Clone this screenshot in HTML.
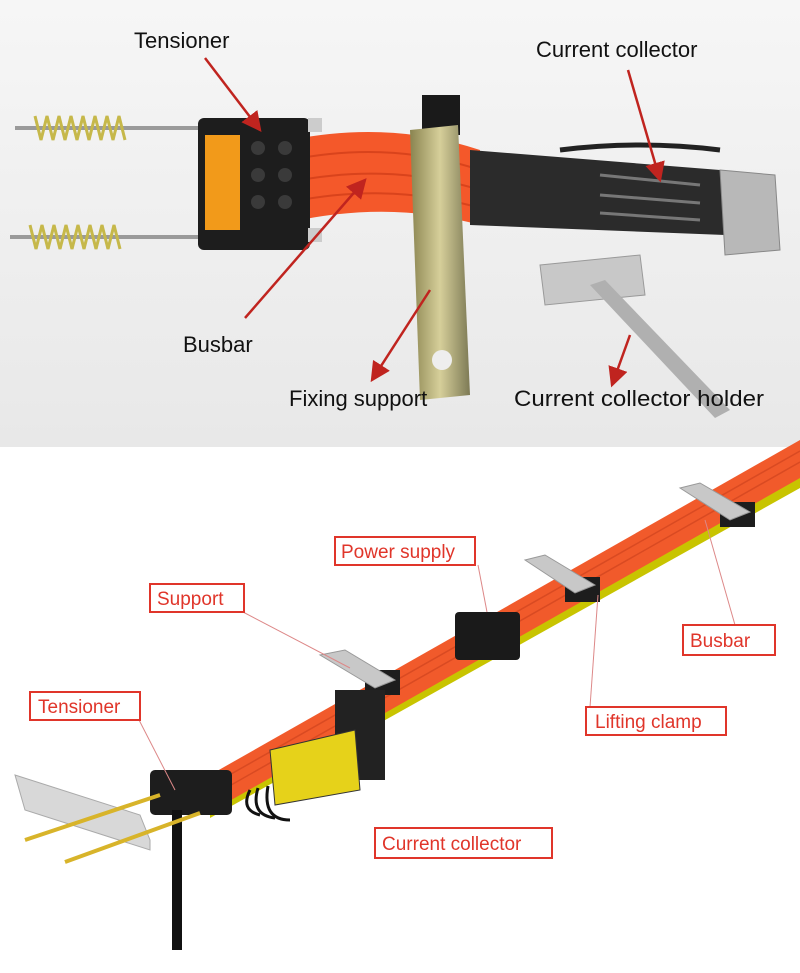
<!DOCTYPE html>
<html><head><meta charset="utf-8"><style>
html,body{margin:0;padding:0;background:#fff;}
svg{display:block;}
</style></head><body>
<svg width="800" height="973" viewBox="0 0 800 973" xmlns="http://www.w3.org/2000/svg" font-family="Liberation Sans, sans-serif">
<defs>
<linearGradient id="bg" x1="0" y1="0" x2="0" y2="1"><stop offset="0" stop-color="#f6f6f6"/><stop offset="1" stop-color="#e8e8e8"/></linearGradient>
<linearGradient id="metal" x1="0" y1="0" x2="1" y2="0"><stop offset="0" stop-color="#8a8450"/><stop offset=".5" stop-color="#d6cf9a"/><stop offset="1" stop-color="#7d7a55"/></linearGradient>
<marker id="ar" markerWidth="8" markerHeight="8" refX="7" refY="4" orient="auto"><path d="M0,0 L8,4 L0,8 z" fill="#c0241f"/></marker>
</defs>
<rect x="0" y="0" width="800" height="447" fill="url(#bg)"/>
<g stroke="#9a9a9a" stroke-width="4"><line x1="15" y1="128" x2="210" y2="128"/><line x1="10" y1="237" x2="210" y2="237"/></g>
<g stroke="#c6b84a" stroke-width="3">
<path d="M35 116 l6 24 l6 -24 l6 24 l6 -24 l6 24 l6 -24 l6 24 l6 -24 l6 24 l6 -24 l6 24 l6 -24 l6 24 l6 -24 l6 24" fill="none"/>
<path d="M30 225 l6 24 l6 -24 l6 24 l6 -24 l6 24 l6 -24 l6 24 l6 -24 l6 24 l6 -24 l6 24 l6 -24 l6 24 l6 -24 l6 24" fill="none"/>
</g>
<path d="M290 140 Q390 120 480 150 L480 225 Q390 200 290 222 Z" fill="#f4582a"/>
<g stroke="#d9431c" stroke-width="2" fill="none"><path d="M290 160 Q390 140 480 170"/><path d="M290 182 Q390 162 480 190"/><path d="M290 202 Q390 182 480 208"/></g>
<path d="M470 150 L720 170 L725 235 L470 225 Z" fill="#2b2b2b"/>
<g stroke="#777" stroke-width="3"><line x1="600" y1="175" x2="700" y2="185"/><line x1="600" y1="195" x2="700" y2="203"/><line x1="600" y1="213" x2="700" y2="220"/></g>
<path d="M560 150 Q640 140 720 150" stroke="#222" stroke-width="5" fill="none"/>
<path d="M720 170 L775 175 L780 250 L725 255 Z" fill="#b8b8b8" stroke="#888"/>
<rect x="198" y="118" width="112" height="132" rx="6" fill="#1d1d1d"/>
<rect x="205" y="135" width="35" height="95" fill="#f29a1a"/>
<g fill="#3a3a3a"><circle cx="258" cy="148" r="7"/><circle cx="285" cy="148" r="7"/><circle cx="258" cy="175" r="7"/><circle cx="285" cy="175" r="7"/><circle cx="258" cy="202" r="7"/><circle cx="285" cy="202" r="7"/></g>
<rect x="308" y="118" width="14" height="14" fill="#ccc"/><rect x="308" y="228" width="14" height="14" fill="#ccc"/>
<rect x="422" y="95" width="38" height="40" fill="#1a1a1a"/>
<path d="M410 130 L458 125 L470 395 L420 400 Z" fill="url(#metal)"/>
<circle cx="442" cy="360" r="10" fill="#eee"/>
<path d="M540 265 L640 255 L645 295 L545 305 Z" fill="#c8c8c8" stroke="#999"/>
<path d="M590 285 L605 280 L730 410 L715 418 Z" fill="#b0b0b0"/>
<g font-size="22" fill="#111">
<text x="134" y="48">Tensioner</text>
<text x="536" y="57">Current collector</text>
<text x="183" y="352">Busbar</text>
<text x="289" y="406">Fixing support</text>
<text x="514" y="406" textLength="250" lengthAdjust="spacingAndGlyphs">Current collector holder</text>
</g>
<g stroke="#c0241f" stroke-width="2.5" marker-end="url(#ar)">
<line x1="205" y1="58" x2="260" y2="130"/>
<line x1="628" y1="70" x2="660" y2="180"/>
<line x1="245" y1="318" x2="365" y2="180"/>
<line x1="430" y1="290" x2="372" y2="380"/>
<line x1="630" y1="335" x2="612" y2="385"/>
</g>
<path d="M210 790 L800 465 L800 488 L210 818 Z" fill="#c8c400"/>
<path d="M210 775 L800 440 L800 478 L210 812 Z" fill="#f15a2b"/>
<g stroke="#d94a22" stroke-width="1.5"><line x1="210" y1="786" x2="800" y2="451"/><line x1="210" y1="797" x2="800" y2="462"/></g>
<g fill="#1d1d1d"><rect x="365" y="670" width="35" height="25"/><rect x="565" y="577" width="35" height="25"/><rect x="720" y="502" width="35" height="25"/></g>
<g fill="#c8c8c8" stroke="#999"><path d="M320 655 L345 650 L395 680 L375 688 Z"/><path d="M525 560 L545 555 L595 585 L575 593 Z"/><path d="M680 488 L700 483 L750 512 L730 520 Z"/></g>
<rect x="455" y="612" width="65" height="48" rx="4" fill="#1a1a1a"/>
<rect x="335" y="690" width="50" height="90" fill="#222"/>
<path d="M270 750 L355 730 L360 790 L275 805 Z" fill="#e6d21a" stroke="#333"/>
<g stroke="#111" stroke-width="3" fill="none"><path d="M250 790 Q240 810 260 815"/><path d="M258 788 Q250 815 275 818"/><path d="M268 786 Q262 820 290 820"/></g>
<rect x="150" y="770" width="82" height="45" rx="5" fill="#1d1d1d"/>
<rect x="172" y="810" width="10" height="140" fill="#111"/>
<path d="M15 775 L140 815 L150 840 L150 850 L25 810 Z" fill="#d8d8d8" stroke="#aaa"/>
<g stroke="#d8b42a" stroke-width="4"><line x1="25" y1="840" x2="160" y2="795"/><line x1="65" y1="862" x2="200" y2="813"/></g>
<g stroke="#d88" stroke-width="1" fill="none">
<line x1="243" y1="612" x2="350" y2="668"/>
<line x1="478" y1="565" x2="487" y2="612"/>
<line x1="138" y1="718" x2="175" y2="790"/>
<line x1="735" y1="625" x2="705" y2="520"/>
<line x1="590" y1="707" x2="598" y2="595"/>
</g>
<g font-size="19" fill="#e0352a">
<rect x="335" y="537" width="140" height="28" fill="#fff" stroke="#e0352a" stroke-width="2"/><text x="341" y="558">Power supply</text>
<rect x="150" y="584" width="94" height="28" fill="#fff" stroke="#e0352a" stroke-width="2"/><text x="157" y="605">Support</text>
<rect x="683" y="625" width="92" height="30" fill="#fff" stroke="#e0352a" stroke-width="2"/><text x="690" y="647">Busbar</text>
<rect x="30" y="692" width="110" height="28" fill="#fff" stroke="#e0352a" stroke-width="2"/><text x="38" y="713">Tensioner</text>
<rect x="586" y="707" width="140" height="28" fill="#fff" stroke="#e0352a" stroke-width="2"/><text x="595" y="728">Lifting clamp</text>
<rect x="375" y="828" width="177" height="30" fill="#fff" stroke="#e0352a" stroke-width="2"/><text x="382" y="850">Current collector</text>
</g>
</svg>
</body></html>
